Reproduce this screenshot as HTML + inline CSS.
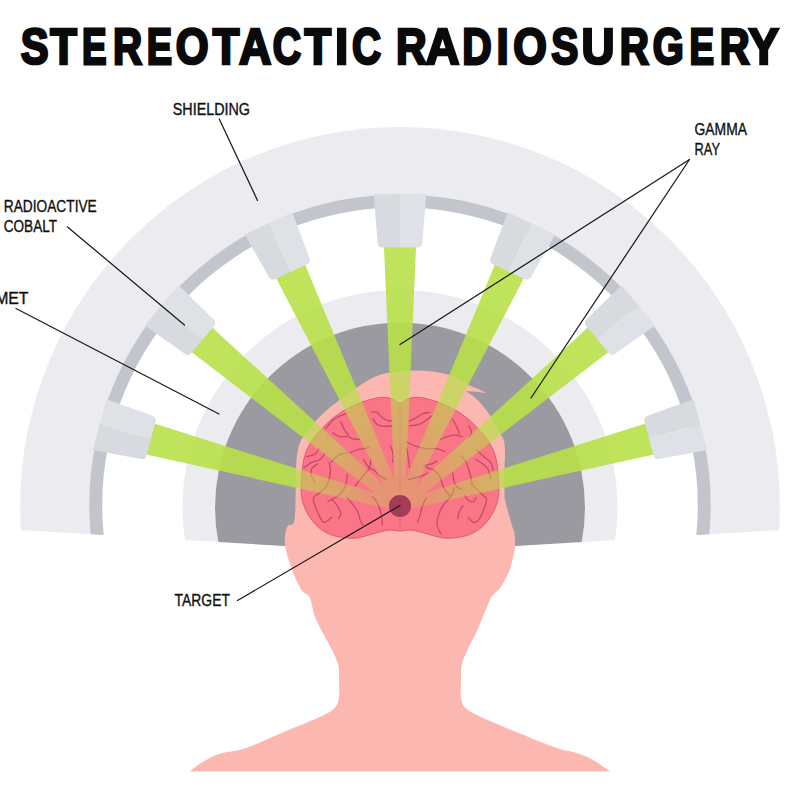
<!DOCTYPE html><html><head><meta charset="utf-8"><style>html,body{margin:0;padding:0;background:#fff;}svg{display:block;}</style></head><body><svg width="800" height="800" viewBox="0 0 800 800"><defs><clipPath id="bot"><path d="M0,0 H800 V530 H779 L400,553 L21,530 H0Z"/></clipPath><radialGradient id="hg" gradientUnits="userSpaceOnUse" cx="400" cy="506" r="140"><stop offset="0" stop-color="#555"/><stop offset="0.55" stop-color="#b3b3b3"/><stop offset="1" stop-color="#b3b3b3"/></radialGradient><radialGradient id="brg" gradientUnits="userSpaceOnUse" cx="400" cy="506" r="110"><stop offset="0" stop-color="#404040"/><stop offset="0.3" stop-color="#4d4d4d"/><stop offset="0.8" stop-color="#858585"/><stop offset="1" stop-color="#8c8c8c"/></radialGradient><mask id="bm" maskUnits="userSpaceOnUse" x="0" y="0" width="800" height="800"><rect width="800" height="800" fill="#e6e6e6"/><path fill="url(#hg)" d="M190,771.5 C191.83,770.08 196.17,765.92 201,763 C205.83,760.08 211.5,756.5 219,754 C226.5,751.5 235,751.75 246,748 C257,744.25 272.5,736.75 285,731.5 C297.5,726.25 312.67,720.5 321,716.5 C329.33,712.5 332,710.75 335,707.5 C338,704.25 338.33,701.58 339,697 C339.67,692.42 339.07,685.08 339,680 C338.93,674.92 339.52,671 338.6,666.5 C337.68,662 335.93,658.25 333.5,653 C331.07,647.75 327.08,641 324,635 C320.92,629 317.17,622.67 315,617 C312.83,611.33 312.08,604.5 311,601 C309.92,597.5 310.08,597.83 308.5,596 C306.92,594.17 303.79,593.25 301.5,590 C299.21,586.75 296.83,581.33 294.75,576.5 C292.67,571.67 290.62,566.25 289,561 C287.38,555.75 285.58,549.67 285,545 C284.42,540.33 285,536.25 285.5,533 C286,529.75 286.58,527.25 288,525.5 C289.42,523.75 292.73,526.75 294,522.5 C295.27,518.25 295.33,505.42 295.6,500 C295.87,494.58 295.49,495.83 295.6,490 C295.71,484.17 295.93,471.25 296.25,465 C296.57,458.75 296.67,456.67 297.5,452.5 C298.33,448.33 298.5,444.92 301.25,440 C304,435.08 309.62,428.08 314,423 C318.38,417.92 323,413.5 327.5,409.5 C332,405.5 336,402.75 341,399 C346,395.25 352,390.62 357.5,387 C363,383.38 368.75,379.62 374,377.25 C379.25,374.88 382.92,373.93 389,372.8 C395.08,371.68 403.67,370.76 410.5,370.5 C417.33,370.24 423.5,370.5 430,371.25 C436.5,372 443.5,373.12 449.5,375 C455.5,376.88 462.92,380.83 466,382.5 C469.08,384.17 467.67,384.58 468,385 L475,387.5 Q481,390 486,393 Q476,391.5 466,391 L466,391 C468,392.58 474,396.42 478,400.5 C482,404.58 486.5,410.25 490,415.5 C493.5,420.75 496.71,427.92 499,432 C501.29,436.08 502.75,436.58 503.75,440 C504.75,443.42 504.86,448.33 505,452.5 C505.14,456.67 504.68,458.75 504.6,465 C504.52,471.25 504.43,484.17 504.5,490 C504.57,495.83 503.75,494.08 505,500 C506.25,505.92 510.42,520 512,525.5 C513.58,531 514,529.58 514.5,533 C515,536.42 515.25,541.83 515,546 C514.75,550.17 514.17,553.33 513,558 C511.83,562.67 510.17,569 508,574 C505.83,579 502.5,584.5 500,588 C497.5,591.5 494.67,593 493,595 C491.33,597 491.5,596.83 490,600 C488.5,603.17 486.33,608.5 484,614 C481.67,619.5 479,626.5 476,633 C473,639.5 468.43,647.42 466,653 C463.57,658.58 462.23,662 461.4,666.5 C460.57,671 461.07,674.92 461,680 C460.93,685.08 460.33,692.42 461,697 C461.67,701.58 462,704.33 465,707.5 C468,710.67 470.67,712 479,716 C487.33,720 502,726.17 515,731.5 C528,736.83 547,744.5 557,748 C567,751.5 569,750.5 575,752.5 C581,754.5 587.17,756.83 593,760 C598.83,763.17 607.17,769.58 610,771.5 L190,771.5Z"/><path fill="url(#brg)" d="M400,403 C397,403 394.33,399.42 391,398.5 C387.67,397.58 384.83,396.92 380,397.5 C375.17,398.08 367.75,400 362,402 C356.25,404 350.5,406.67 345.5,409.5 C340.5,412.33 335.92,415.83 332,419 C328.08,422.17 324.83,425.67 322,428.5 C319.17,431.33 317,433.46 315,436 C313,438.54 311.67,440.58 310,443.75 C308.33,446.92 306.25,451.04 305,455 C303.75,458.96 303.12,463.12 302.5,467.5 C301.88,471.88 301.46,477.08 301.25,481.25 C301.04,485.42 300.83,488.54 301.25,492.5 C301.67,496.46 302.29,500.83 303.75,505 C305.21,509.17 307.5,513.75 310,517.5 C312.5,521.25 315.62,524.79 318.75,527.5 C321.88,530.21 325.21,532.17 328.75,533.75 C332.29,535.33 335.38,536.29 340,537 C344.62,537.71 350.5,538.67 356.5,538 C362.5,537.33 370.58,534.33 376,533 C381.42,531.67 385,530.33 389,530 C393,529.67 396.33,531 400,531 C403.67,531 407,529.67 411,530 C415,530.33 418.58,531.67 424,533 C429.42,534.33 437.5,537.33 443.5,538 C449.5,538.67 455.38,537.71 460,537 C464.62,536.29 467.71,535.33 471.25,533.75 C474.79,532.17 478.12,530.21 481.25,527.5 C484.38,524.79 487.5,521.25 490,517.5 C492.5,513.75 494.79,509.17 496.25,505 C497.71,500.83 498.33,496.46 498.75,492.5 C499.17,488.54 498.96,485.42 498.75,481.25 C498.54,477.08 498.12,471.88 497.5,467.5 C496.88,463.12 496.25,458.96 495,455 C493.75,451.04 491.67,446.92 490,443.75 C488.33,440.58 487,438.54 485,436 C483,433.46 480.83,431.33 478,428.5 C475.17,425.67 471.92,422.17 468,419 C464.08,415.83 459.5,412.33 454.5,409.5 C449.5,406.67 443.75,404 438,402 C432.25,400 424.83,398.08 420,397.5 C415.17,396.92 412.33,397.58 409,398.5 C405.67,399.42 403,403 400,403Z"/></mask></defs><rect width="800" height="800" fill="#fff"/><g clip-path="url(#bot)"><path fill="#ececf0" fill-rule="evenodd" d="M20.1,506.85 a379.9,379.9 0 1,0 759.8,0 a379.9,379.9 0 1,0 -759.8,0Z M89.2,505.2 a310.8,310.8 0 1,0 621.6,0 a310.8,310.8 0 1,0 -621.6,0Z "/><path fill="#c3c5cc" fill-rule="evenodd" d="M89.2,505.2 a310.8,310.8 0 1,0 621.6,0 a310.8,310.8 0 1,0 -621.6,0Z M102.2,505 a297.8,297.8 0 1,0 595.6,0 a297.8,297.8 0 1,0 -595.6,0Z "/><path fill="#ececf0" fill-rule="evenodd" d="M182.5,507.5 a217.5,217.5 0 1,0 435,0 a217.5,217.5 0 1,0 -435,0Z M215,507.5 a185,185 0 1,0 370,0 a185,185 0 1,0 -370,0Z "/><circle cx="400" cy="507.5" r="185" fill="#9a9aa0"/></g><path fill="#fcb8b0" d="M190,771.5 C191.83,770.08 196.17,765.92 201,763 C205.83,760.08 211.5,756.5 219,754 C226.5,751.5 235,751.75 246,748 C257,744.25 272.5,736.75 285,731.5 C297.5,726.25 312.67,720.5 321,716.5 C329.33,712.5 332,710.75 335,707.5 C338,704.25 338.33,701.58 339,697 C339.67,692.42 339.07,685.08 339,680 C338.93,674.92 339.52,671 338.6,666.5 C337.68,662 335.93,658.25 333.5,653 C331.07,647.75 327.08,641 324,635 C320.92,629 317.17,622.67 315,617 C312.83,611.33 312.08,604.5 311,601 C309.92,597.5 310.08,597.83 308.5,596 C306.92,594.17 303.79,593.25 301.5,590 C299.21,586.75 296.83,581.33 294.75,576.5 C292.67,571.67 290.62,566.25 289,561 C287.38,555.75 285.58,549.67 285,545 C284.42,540.33 285,536.25 285.5,533 C286,529.75 286.58,527.25 288,525.5 C289.42,523.75 292.73,526.75 294,522.5 C295.27,518.25 295.33,505.42 295.6,500 C295.87,494.58 295.49,495.83 295.6,490 C295.71,484.17 295.93,471.25 296.25,465 C296.57,458.75 296.67,456.67 297.5,452.5 C298.33,448.33 298.5,444.92 301.25,440 C304,435.08 309.62,428.08 314,423 C318.38,417.92 323,413.5 327.5,409.5 C332,405.5 336,402.75 341,399 C346,395.25 352,390.62 357.5,387 C363,383.38 368.75,379.62 374,377.25 C379.25,374.88 382.92,373.93 389,372.8 C395.08,371.68 403.67,370.76 410.5,370.5 C417.33,370.24 423.5,370.5 430,371.25 C436.5,372 443.5,373.12 449.5,375 C455.5,376.88 462.92,380.83 466,382.5 C469.08,384.17 467.67,384.58 468,385 L475,387.5 Q481,390 486,393 Q476,391.5 466,391 L466,391 C468,392.58 474,396.42 478,400.5 C482,404.58 486.5,410.25 490,415.5 C493.5,420.75 496.71,427.92 499,432 C501.29,436.08 502.75,436.58 503.75,440 C504.75,443.42 504.86,448.33 505,452.5 C505.14,456.67 504.68,458.75 504.6,465 C504.52,471.25 504.43,484.17 504.5,490 C504.57,495.83 503.75,494.08 505,500 C506.25,505.92 510.42,520 512,525.5 C513.58,531 514,529.58 514.5,533 C515,536.42 515.25,541.83 515,546 C514.75,550.17 514.17,553.33 513,558 C511.83,562.67 510.17,569 508,574 C505.83,579 502.5,584.5 500,588 C497.5,591.5 494.67,593 493,595 C491.33,597 491.5,596.83 490,600 C488.5,603.17 486.33,608.5 484,614 C481.67,619.5 479,626.5 476,633 C473,639.5 468.43,647.42 466,653 C463.57,658.58 462.23,662 461.4,666.5 C460.57,671 461.07,674.92 461,680 C460.93,685.08 460.33,692.42 461,697 C461.67,701.58 462,704.33 465,707.5 C468,710.67 470.67,712 479,716 C487.33,720 502,726.17 515,731.5 C528,736.83 547,744.5 557,748 C567,751.5 569,750.5 575,752.5 C581,754.5 587.17,756.83 593,760 C598.83,763.17 607.17,769.58 610,771.5 L190,771.5Z"/><path fill="#fa7687" stroke="#dc5a74" stroke-width="1" d="M400,403 C397,403 394.33,399.42 391,398.5 C387.67,397.58 384.83,396.92 380,397.5 C375.17,398.08 367.75,400 362,402 C356.25,404 350.5,406.67 345.5,409.5 C340.5,412.33 335.92,415.83 332,419 C328.08,422.17 324.83,425.67 322,428.5 C319.17,431.33 317,433.46 315,436 C313,438.54 311.67,440.58 310,443.75 C308.33,446.92 306.25,451.04 305,455 C303.75,458.96 303.12,463.12 302.5,467.5 C301.88,471.88 301.46,477.08 301.25,481.25 C301.04,485.42 300.83,488.54 301.25,492.5 C301.67,496.46 302.29,500.83 303.75,505 C305.21,509.17 307.5,513.75 310,517.5 C312.5,521.25 315.62,524.79 318.75,527.5 C321.88,530.21 325.21,532.17 328.75,533.75 C332.29,535.33 335.38,536.29 340,537 C344.62,537.71 350.5,538.67 356.5,538 C362.5,537.33 370.58,534.33 376,533 C381.42,531.67 385,530.33 389,530 C393,529.67 396.33,531 400,531 C403.67,531 407,529.67 411,530 C415,530.33 418.58,531.67 424,533 C429.42,534.33 437.5,537.33 443.5,538 C449.5,538.67 455.38,537.71 460,537 C464.62,536.29 467.71,535.33 471.25,533.75 C474.79,532.17 478.12,530.21 481.25,527.5 C484.38,524.79 487.5,521.25 490,517.5 C492.5,513.75 494.79,509.17 496.25,505 C497.71,500.83 498.33,496.46 498.75,492.5 C499.17,488.54 498.96,485.42 498.75,481.25 C498.54,477.08 498.12,471.88 497.5,467.5 C496.88,463.12 496.25,458.96 495,455 C493.75,451.04 491.67,446.92 490,443.75 C488.33,440.58 487,438.54 485,436 C483,433.46 480.83,431.33 478,428.5 C475.17,425.67 471.92,422.17 468,419 C464.08,415.83 459.5,412.33 454.5,409.5 C449.5,406.67 443.75,404 438,402 C432.25,400 424.83,398.08 420,397.5 C415.17,396.92 412.33,397.58 409,398.5 C405.67,399.42 403,403 400,403Z"/><g fill="none" stroke="#c9486a" stroke-width="1.3" stroke-linecap="round"><path d="M371.6,412.3 C372.5,412.3 375.2,411.4 377,412.3 C378.8,413.2 380.37,416.25 382.4,417.7 C384.43,419.15 387.62,420.55 389.2,421 C390.78,421.45 391.45,420.5 391.9,420.4"/><path d="M373,419 C373.67,419.9 375.2,423.17 377,424.4 C378.8,425.63 381.32,426.17 383.8,426.4 C386.28,426.63 390.55,425.9 391.9,425.8"/><path d="M325.7,428.5 C326.83,427.15 330.25,422.43 332.5,420.4 C334.75,418.37 336.95,417.43 339.2,416.3 C341.45,415.17 344.87,414.05 346,413.6"/><path d="M332.5,432.5 C333.62,433.18 336.73,435.92 339.2,436.6 C341.67,437.28 344.83,436.15 347.3,436.6 C349.77,437.05 351.97,438.85 354,439.3 C356.03,439.75 358.58,439.3 359.5,439.3"/><path d="M340.6,421.7 C341.27,423.05 343.25,427.55 344.6,429.8 C345.95,432.05 348.02,434.3 348.7,435.2"/><path d="M350,452.8 C351.13,452.33 354.55,450.68 356.8,450 C359.05,449.32 361.48,449.13 363.5,448.7 C365.52,448.27 368,447.62 368.9,447.4"/><path d="M306.8,456.8 C308.15,456.35 312.87,455.45 314.9,454.1 C316.93,452.75 318.32,449.6 319,448.7"/><path d="M304.1,467.6 C305.45,466.7 309.5,463.55 312.2,462.2 C314.9,460.85 318.27,460.85 320.3,459.5 C322.33,458.15 323.72,455 324.4,454.1"/><path d="M317.5,463.9 C316.63,464.55 313.38,466.07 312.3,467.8 C311.22,469.53 310.57,471.92 311,474.3 C311.43,476.68 314.25,480.8 314.9,482.1"/><path d="M331.1,462.2 C332,461.3 334.92,458.15 336.5,456.8 C338.08,455.45 338.8,454.77 340.6,454.1 C342.4,453.43 346.18,453.02 347.3,452.8"/><path d="M329.2,462.6 C329.42,463.9 330.5,467.8 330.5,470.4 C330.5,473 329.85,475.6 329.2,478.2 C328.55,480.8 328.12,483.62 326.6,486 C325.08,488.38 322.27,490.55 320.1,492.5 C317.93,494.45 314.47,495.53 313.6,497.7 C312.73,499.87 314.03,502.68 314.9,505.5 C315.77,508.32 317.28,511.78 318.8,514.6 C320.32,517.42 321.83,521.97 324,522.4 C326.17,522.83 330.5,518.07 331.8,517.2"/><path d="M363.5,459.5 C364.4,460.85 367.1,465.8 368.9,467.6 C370.7,469.4 372.5,468.95 374.3,470.3 C376.1,471.65 377.68,474.17 379.7,475.7 C381.72,477.23 385.28,478.87 386.4,479.5"/><path d="M390.5,446 C390.95,447.35 392.87,451.4 393.2,454.1 C393.53,456.8 392.62,460.85 392.5,462.2"/><path d="M347.4,474.3 C347.18,475.82 346.75,480.8 346.1,483.4 C345.45,486 345.02,487.73 343.5,489.9 C341.98,492.07 339.6,494.45 337,496.4 C334.4,498.35 329.42,500.73 327.9,501.6"/><path d="M347.4,497.7 C348.27,498.78 350.87,501.82 352.6,504.2 C354.33,506.58 356.5,509.18 357.8,512 C359.1,514.82 359.53,518.93 360.4,521.1 C361.27,523.27 362.57,524.35 363,525"/><path d="M331.8,499 C332.67,500.08 335.48,503.12 337,505.5 C338.52,507.88 340.68,511.13 340.9,513.3 C341.12,515.47 338.73,517.63 338.3,518.5"/><path d="M372.1,496.4 C372.97,497.48 375.78,499.87 377.3,502.9 C378.82,505.93 380.33,510.92 381.2,514.6 C382.07,518.28 382.28,523.27 382.5,525"/><path d="M355.2,486 C355.85,485.13 357.37,482.97 359.1,480.8 C360.83,478.63 363.87,475.17 365.6,473 C367.33,470.83 368.63,469.97 369.5,467.8 C370.37,465.63 370.58,461.3 370.8,460"/><path d="M409.5,421 C410.63,420.45 414.05,418.93 416.3,417.7 C418.55,416.47 420.75,414.5 423,413.6 C425.25,412.7 428.67,412.52 429.8,412.3"/><path d="M409.5,425.8 C411.08,425.57 416.3,425.3 419,424.4 C421.7,423.5 423.68,421.75 425.7,420.4 C427.72,419.05 430.2,416.98 431.1,416.3"/><path d="M452.7,419 C453.38,420.35 455.67,424.62 456.8,427.1 C457.93,429.58 459.05,432.77 459.5,433.9"/><path d="M440.6,439.3 C441.72,438.85 444.83,437.28 447.3,436.6 C449.77,435.92 452.92,435.2 455.4,435.2 C457.88,435.2 461.07,436.37 462.2,436.6"/><path d="M468.9,425.8 C469.35,426.92 471.6,430.48 471.6,432.5 C471.6,434.52 469.35,437 468.9,437.9"/><path d="M406.8,442 C408.15,442.67 411.52,444.88 414.9,446 C418.28,447.12 423.5,448.25 427.1,448.7 C430.7,449.15 433.58,448.25 436.5,448.7 C439.42,449.15 443.25,450.95 444.6,451.4"/><path d="M460.8,455.5 C461.7,456.62 464.85,459.73 466.2,462.2 C467.55,464.67 468.13,467.83 468.9,470.3 C469.67,472.77 470.27,474.82 470.8,477 C471.33,479.18 471.88,482.33 472.1,483.4"/><path d="M477,450 C478.13,451.13 481.55,454.77 483.8,456.8 C486.05,458.83 488.93,459.95 490.5,462.2 C492.07,464.45 492.75,468.95 493.2,470.3"/><path d="M475.7,459.5 C476.82,460.18 480.38,462.02 482.4,463.6 C484.42,465.18 486.45,466.53 487.8,469 C489.15,471.47 490.05,476.83 490.5,478.4"/><path d="M425.7,464.9 C426.83,464.68 430.7,464.27 432.5,463.6 C434.3,462.93 435.83,461.35 436.5,460.9"/><path d="M424,465.2 C424.65,465.63 426.27,466.95 427.9,467.8 C429.53,468.65 431.92,468.98 433.8,470.3 C435.68,471.62 437.85,473.67 439.2,475.7 C440.55,477.73 441,480.25 441.9,482.5 C442.8,484.75 443.25,486.95 444.6,489.2 C445.95,491.45 449.1,494.87 450,496"/><path d="M452.7,473 C452.92,474.35 453.32,478.85 454,481.1 C454.68,483.35 455.43,485.15 456.8,486.5 C458.17,487.85 461.3,488.75 462.2,489.2"/><path d="M408.4,479.5 C409.48,479.28 412.52,478.85 414.9,478.2 C417.28,477.55 420.53,476.47 422.7,475.6 C424.87,474.73 427.03,473.43 427.9,473"/><path d="M406.8,448.7 C407.02,450.05 407.65,453.65 408.1,456.8 C408.55,459.95 409.27,465.8 409.5,467.6"/><path d="M426.6,497.7 C425.95,499 423.78,502.68 422.7,505.5 C421.62,508.32 420.97,511.78 420.1,514.6 C419.23,517.42 417.93,521.1 417.5,522.4"/><path d="M453.9,487.3 C453.68,488.38 453.68,491.63 452.6,493.8 C451.52,495.97 449.13,498.13 447.4,500.3 C445.67,502.47 443.72,504.2 442.2,506.8 C440.68,509.4 439.17,512.87 438.3,515.9 C437.43,518.93 436.57,521.97 437,525 C437.43,528.03 440.25,532.58 440.9,534.1"/><path d="M463,505.5 C462.35,506.58 459.97,509.83 459.1,512 C458.23,514.17 458.02,517.42 457.8,518.5"/><path d="M470.8,483.4 C471.67,484.27 474.27,486.87 476,488.6 C477.73,490.33 479.47,492.07 481.2,493.8 C482.93,495.53 485.97,496.4 486.4,499 C486.83,501.6 485.1,505.93 483.8,509.4 C482.5,512.87 480.33,517.63 478.6,519.8 C476.87,521.97 475.13,522.83 473.4,522.4 C471.67,521.97 469.07,518.07 468.2,517.2"/><path d="M464.3,495.1 C464.95,495.97 466.68,499.22 468.2,500.3 C469.72,501.38 472.1,502.03 473.4,501.6 C474.7,501.17 475.57,498.35 476,497.7"/></g><path d="M400,403 L400,531" stroke="#e06680" stroke-width="1" fill="none"/><g mask="url(#bm)" fill="#b8e048"><path d="M142.75,453.79 L151.11,422.59 L401.2,501.51 L398.8,510.49Z"/><path d="M188.91,349.96 L209.68,325.22 L402.99,502.44 L397.01,509.56Z"/><path d="M274.64,275.37 L303.91,261.72 L404.21,504.03 L395.79,507.97Z"/><path d="M383.85,244 L416.15,244 L404.65,506 L395.35,506Z"/><path d="M496.09,261.72 L525.36,275.37 L404.21,507.97 L395.79,504.03Z"/><path d="M590.32,325.22 L611.09,349.96 L402.99,509.56 L397.01,502.44Z"/><path d="M648.89,422.59 L657.25,453.79 L401.2,510.49 L398.8,501.51Z"/></g><path fill="#d7dade" d="M92.8,450.06 L99.6,424.71 L151.08,438.5 L146.55,455.41 Q145.39,459.75 140.95,458.93 Z"/><path fill="#dee1e6" d="M99.6,424.71 L106.39,399.35 L152.52,415.74 Q156.77,417.25 155.61,421.6 L151.08,438.5 Z"/><path fill="#d7dade" d="M144.89,325.4 L161.76,305.29 L202.59,339.55 L191.34,352.96 Q188.45,356.41 184.77,353.79 Z"/><path fill="#dee1e6" d="M161.76,305.29 L178.63,285.18 L213.52,319.53 Q216.73,322.7 213.84,326.15 L202.59,339.55 Z"/><path fill="#d7dade" d="M244.78,234.43 L268.57,223.34 L291.09,271.64 L275.23,279.04 Q271.15,280.94 268.93,277.02 Z"/><path fill="#dee1e6" d="M268.57,223.34 L292.36,212.24 L309.45,258.12 Q311.03,262.35 306.95,264.25 L291.09,271.64 Z"/><path fill="#d7dade" d="M373.75,194.2 L400,194.2 L400,247.5 L382.5,247.5 Q378,247.5 377.64,243 Z"/><path fill="#dee1e6" d="M400,194.2 L426.25,194.2 L422.36,243 Q422,247.5 417.5,247.5 L400,247.5 Z"/><path fill="#d7dade" d="M507.64,212.24 L531.43,223.34 L508.91,271.64 L493.05,264.25 Q488.97,262.35 490.55,258.12 Z"/><path fill="#dee1e6" d="M531.43,223.34 L555.22,234.43 L531.07,277.02 Q528.85,280.94 524.77,279.04 L508.91,271.64 Z"/><path fill="#d7dade" d="M621.37,285.18 L638.24,305.29 L597.41,339.55 L586.16,326.15 Q583.27,322.7 586.48,319.53 Z"/><path fill="#dee1e6" d="M638.24,305.29 L655.11,325.4 L615.23,353.79 Q611.55,356.41 608.66,352.96 L597.41,339.55 Z"/><path fill="#d7dade" d="M693.61,399.35 L700.4,424.71 L648.92,438.5 L644.39,421.6 Q643.23,417.25 647.48,415.74 Z"/><path fill="#dee1e6" d="M700.4,424.71 L707.2,450.06 L659.05,458.93 Q654.61,459.75 653.45,455.41 L648.92,438.5 Z"/><circle cx="400" cy="506" r="11.1" fill="#a33c56"/><g stroke="#1a1a1a" stroke-width="1.25" fill="none" stroke-linecap="round"><line x1="219.25" y1="119" x2="257.5" y2="200.5"/><line x1="67.5" y1="227" x2="184.5" y2="325"/><line x1="16" y1="308.5" x2="219" y2="414"/><line x1="689.5" y1="159.5" x2="400" y2="344.5"/><line x1="689.5" y1="159.5" x2="531" y2="398"/><line x1="237.5" y1="600.5" x2="400" y2="505.5"/></g><g font-family="Liberation Sans, sans-serif" font-size="15.8" fill="#111" stroke="#111" stroke-width="0.35"><text x="172.75" y="114.75" textLength="77.25" lengthAdjust="spacingAndGlyphs">SHIELDING</text><text x="3.75" y="211.75" textLength="93" lengthAdjust="spacingAndGlyphs">RADIOACTIVE</text><text x="3.75" y="232" textLength="53.25" lengthAdjust="spacingAndGlyphs">COBALT</text><text x="28.5" y="304" text-anchor="end">HELMET</text><text x="694.5" y="134.75" textLength="52.5" lengthAdjust="spacingAndGlyphs">GAMMA</text><text x="694.5" y="155" textLength="25.5" lengthAdjust="spacingAndGlyphs">RAY</text><text x="174.6" y="606.3" textLength="55.3" lengthAdjust="spacingAndGlyphs">TARGET</text></g><g font-family="Liberation Sans, sans-serif" font-weight="bold" font-size="50.8" fill="#0a0a0a" stroke="#0a0a0a" stroke-width="2.5" stroke-linejoin="miter"><text vector-effect="non-scaling-stroke" transform="translate(21.85,64.35) scale(0.8214,1)" x="-1.46">S</text><text vector-effect="non-scaling-stroke" transform="translate(50.65,64.35) scale(0.8558,1)" x="-0.57">T</text><text vector-effect="non-scaling-stroke" transform="translate(84.35,64.35) scale(0.7245,1)" x="-3.4">E</text><text vector-effect="non-scaling-stroke" transform="translate(115.65,64.35) scale(0.7939,1)" x="-3.4">R</text><text vector-effect="non-scaling-stroke" transform="translate(149.35,64.35) scale(0.7474,1)" x="-3.4">E</text><text vector-effect="non-scaling-stroke" transform="translate(177.5,64.35) scale(0.8315,1)" x="-2.08">O</text><text vector-effect="non-scaling-stroke" transform="translate(213.15,64.35) scale(0.8558,1)" x="-0.57">T</text><text vector-effect="non-scaling-stroke" transform="translate(240,64.35) scale(0.8802,1)" x="-1.27">A</text><text vector-effect="non-scaling-stroke" transform="translate(274.35,64.35) scale(0.7723,1)" x="-2.08">C</text><text vector-effect="non-scaling-stroke" transform="translate(305,64.35) scale(0.8574,1)" x="-0.57">T</text><text vector-effect="non-scaling-stroke" transform="translate(338.15,64.35) scale(0.9361,1)" x="-3.4">I</text><text vector-effect="non-scaling-stroke" transform="translate(353.75,64.35) scale(0.7903,1)" x="-2.08">C</text><text vector-effect="non-scaling-stroke" transform="translate(398.75,64.35) scale(0.8342,1)" x="-3.4">R</text><text vector-effect="non-scaling-stroke" transform="translate(426.85,64.35) scale(0.9184,1)" x="-1.27">A</text><text vector-effect="non-scaling-stroke" transform="translate(465,64.35) scale(0.8024,1)" x="-3.4">D</text><text vector-effect="non-scaling-stroke" transform="translate(499.35,64.35) scale(0.8610,1)" x="-3.4">I</text><text vector-effect="non-scaling-stroke" transform="translate(515,64.35) scale(0.8499,1)" x="-2.08">O</text><text vector-effect="non-scaling-stroke" transform="translate(552.5,64.35) scale(0.8001,1)" x="-1.46">S</text><text vector-effect="non-scaling-stroke" transform="translate(584.35,64.35) scale(0.9006,1)" x="-3.05">U</text><text vector-effect="non-scaling-stroke" transform="translate(622.5,64.35) scale(0.7954,1)" x="-3.4">R</text><text vector-effect="non-scaling-stroke" transform="translate(654.35,64.35) scale(0.7847,1)" x="-2.08">G</text><text vector-effect="non-scaling-stroke" transform="translate(691.85,64.35) scale(0.7245,1)" x="-3.4">E</text><text vector-effect="non-scaling-stroke" transform="translate(722.5,64.35) scale(0.8141,1)" x="-3.4">R</text><text vector-effect="non-scaling-stroke" transform="translate(749.35,64.35) scale(0.8976,1)" x="-0.87">Y</text></g></svg></body></html>
